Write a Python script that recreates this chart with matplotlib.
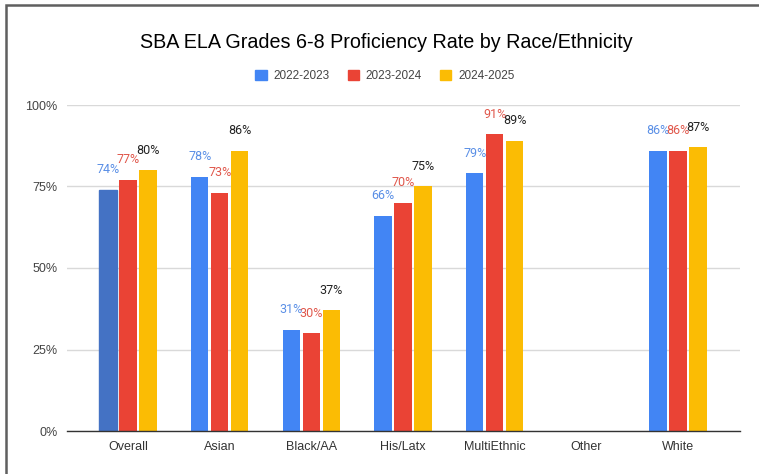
import matplotlib.pyplot as plt
import numpy as np
from matplotlib.patches import Rectangle, Patch

# data
categories = ['Overall', 'Asian', 'Black/AA', 'His/Latx', 'MultiEthnic', 'Other', 'White']
series_names = ['2022-2023', '2023-2024', '2024-2025']
y2022 = [74, 78, 31, 66, 79, np.nan, 86]
y2023 = [77, 73, 30, 70, 91, np.nan, 86]
y2024 = [80, 86, 37, 75, 89, np.nan, 87]
yticks = [0, 25, 50, 75, 100]

bar_colors = ['#4285F4', '#EA4335', '#FBBC04']
label_colors = ['#5A8FE6', '#E0574B', '#222222']

plt.rcParams['font.family'] = ['Liberation Sans', 'DejaVu Sans']

fig = plt.figure(figsize=(7.59, 4.74), dpi=100)
ax = fig.add_axes([67/759, 1-431/474, (740-67)/759, (431-105)/474])

x = np.arange(len(categories))
step = 0.218
width = 0.19
for i, vals in enumerate([y2022, y2023, y2024]):
    pos = x + (i - 1) * step
    bars = ax.bar(pos, vals, width, color=bar_colors[i], zorder=3)
    if i == 0:
        bars[0].set_color('#4472C4')  # Overall bar is a darker blue in the source
    for p, v in zip(pos, vals):
        if np.isnan(v):
            continue
        ax.annotate(f'{v:.0f}%', (p, v), xytext=(0, 14.5), textcoords='offset points',
                    ha='center', va='center', fontsize=9, color=label_colors[i],
                    family=['Roboto', 'DejaVu Sans'])

ax.set_xlim(-0.665, 6.676)
ax.set_ylim(0, 100)
ax.set_yticks(yticks)
ax.set_yticklabels([f'{t}%' for t in yticks])
ax.set_xticks(x)
ax.set_xticklabels(categories)
ax.tick_params(axis='both', length=0, labelsize=9, colors='#444444')
ax.tick_params(axis='x', pad=7, labelcolor='#333333')
ax.tick_params(axis='y', pad=7)
ax.grid(axis='y', color='#d9d9d9', lw=1, zorder=0)
for s in ['top', 'right', 'left']:
    ax.spines[s].set_visible(False)
ax.spines['bottom'].set_color('#333333')
ax.spines['bottom'].set_linewidth(1)
ax.spines['bottom'].set_zorder(4)

fig.text(386/759, 1-42/474, 'SBA ELA Grades 6-8 Proficiency Rate by Race/Ethnicity',
         ha='center', va='center', fontsize=14.2, color='#000000')

handles = [Patch(color=c) for c in bar_colors]
fig.legend(handles, series_names, loc='center', bbox_to_anchor=(385/759, 1-76/474),
           ncol=3, frameon=False, fontsize=8.5, handlelength=0.95, handleheight=0.95,
           columnspacing=1.5, handletextpad=0.6, labelcolor='#444444')

# outer border of the chart box
fig.patches.append(Rectangle((6/759, -0.05), 1.1, 1 - 5/474 + 0.05, transform=fig.transFigure,
                             fill=False, edgecolor='#5f5f5f', lw=1.8))

fig.savefig('out.png', dpi=100)
